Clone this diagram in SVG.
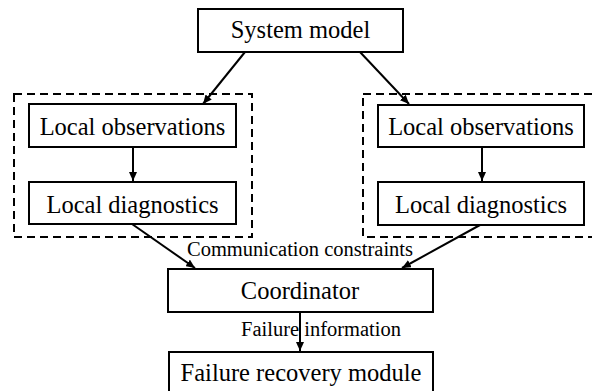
<svg xmlns="http://www.w3.org/2000/svg" width="592" height="391" viewBox="0 0 592 391">
<defs>
<style>
.box{fill:#fff;stroke:#000;stroke-width:2}
.grp{fill:none;stroke:#000;stroke-width:2;stroke-dasharray:8 5}
.t{font-size:24.5px;fill:#000;text-anchor:middle}
.lbl{font-size:20.5px;fill:#000;text-anchor:middle}
.edge{stroke:#000;stroke-width:2;fill:none;marker-end:url(#ah)}
</style>
<marker id="ah" markerUnits="userSpaceOnUse" markerWidth="10" markerHeight="8" refX="9" refY="4" orient="auto">
<path d="M0,0 L9,4 L0,8 Z" fill="#000"/>
</marker>
</defs>
<rect width="592" height="391" fill="#fff"/>
<g id="group-left"><rect class="grp" x="14" y="94" width="238" height="143"/></g>
<g id="group-right"><rect class="grp" x="363" y="94" width="240" height="143"/></g>
<g font-family="Liberation Serif, Times New Roman, serif">
<g id="connectors">
<line class="edge" x1="245" y1="52" x2="203" y2="104"/>
<line class="edge" x1="360" y1="52" x2="409" y2="104"/>
<line class="edge" x1="133" y1="147" x2="133" y2="181"/>
<line class="edge" x1="482" y1="147" x2="482" y2="181"/>
<line class="edge" x1="132" y1="224" x2="195" y2="268"/>
<line class="edge" x1="480" y1="225" x2="402" y2="268"/>
<line class="edge" x1="300" y1="312" x2="300" y2="351"/>
<text class="lbl" x="300" y="256">Communication constraints</text>
<text class="lbl" x="321" y="336">Failure information</text>
</g>
<g id="system-model"><rect class="box" x="198" y="9" width="205" height="43"/><text class="t" x="300.5" y="38">System model</text></g>
<g id="local-obs-left"><rect class="box" x="29" y="104" width="207" height="43"/><text class="t" x="132.5" y="135">Local observations</text></g>
<g id="local-diag-left"><rect class="box" x="29" y="182" width="207" height="42"/><text class="t" x="132.5" y="213">Local diagnostics</text></g>
<g id="local-obs-right"><rect class="box" x="378" y="105" width="206" height="42"/><text class="t" x="481" y="135">Local observations</text></g>
<g id="local-diag-right"><rect class="box" x="378" y="182" width="206" height="43"/><text class="t" x="481" y="213">Local diagnostics</text></g>
<g id="coordinator"><rect class="box" x="168" y="269" width="265" height="43"/><text class="t" x="300" y="299">Coordinator</text></g>
<g id="failure-recovery"><rect class="box" x="169" y="352" width="264" height="45"/><text class="t" x="301" y="381">Failure recovery module</text></g>
</g>
</svg>
